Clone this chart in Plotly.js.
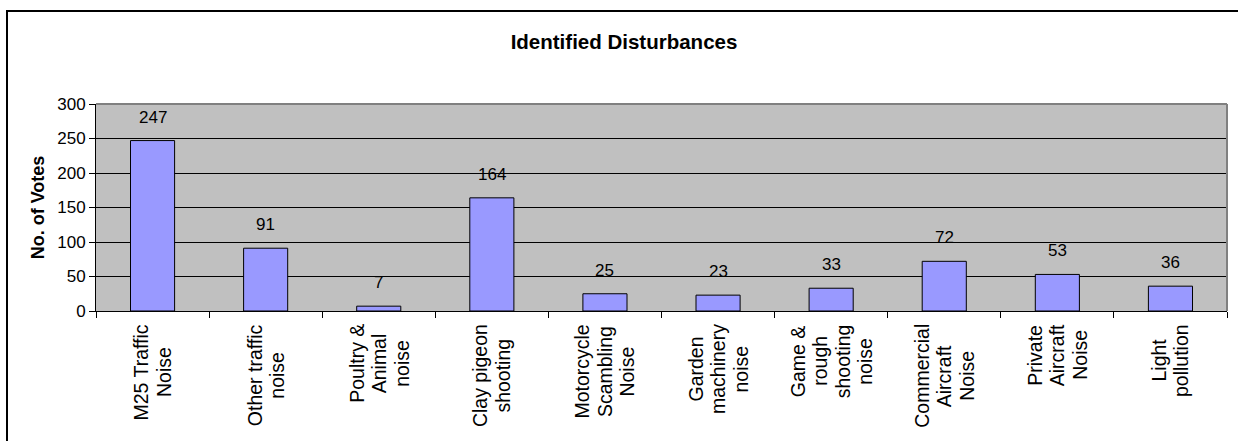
<!DOCTYPE html>
<html>
<head>
<meta charset="utf-8">
<script src="https://cdn.plot.ly/plotly-3.0.1.min.js"></script>
<style>
  html, body { margin: 0; padding: 0; background: #fff; overflow: hidden; }
  #chart { width: 1238px; height: 441px; position: absolute; left: 0; top: 0; }
  #frame { position: absolute; left: 6px; top: 10px; width: 1260px; height: 460px;
           border-left: 2px solid #000; border-top: 2px solid #000; pointer-events: none; }
</style>
</head>
<body>
<div id="chart"></div>
<div id="frame"></div>
<script>
const categories = [
  ["M25 Traffic", "Noise"],
  ["Other traffic", "noise"],
  ["Poultry &", "Animal", "noise"],
  ["Clay pigeon", "shooting"],
  ["Motorcycle", "Scambling", "Noise"],
  ["Garden", "machinery", "noise"],
  ["Game &", "rough", "shooting", "noise"],
  ["Commercial", "Aircraft", "Noise"],
  ["Private", "Aircraft", "Noise"],
  ["Light", "pollution"]
];
const votes = [247, 91, 7, 164, 25, 23, 33, 72, 53, 36];
const yTicks = [0, 50, 100, 150, 200, 250, 300];

const FONT = "Liberation Sans, Arial, sans-serif";
const CAT_SIZE = 19.5;
const LINE_GAP = 22.5;

const canvas = document.createElement("canvas");
const ctx = canvas.getContext("2d");
ctx.font = CAT_SIZE + "px 'Liberation Sans'";

const idx = categories.map((c, i) => i);

const trace = {
  type: "bar",
  x: idx,
  y: votes,
  marker: { color: "#9999FF", line: { color: "#000000", width: 1 } },
  hoverinfo: "skip"
};

const annotations = [];
votes.forEach((v, i) => {
  annotations.push({
    x: i, y: v, xref: "x", yref: "y",
    text: String(v), showarrow: false,
    yanchor: "bottom", yshift: 12,
    font: { family: FONT, size: 17, color: "#000" }
  });
});
categories.forEach((lines, i) => {
  const wMax = Math.max(...lines.map(s => ctx.measureText(s).width));
  const n = lines.length;
  lines.forEach((s, j) => {
    annotations.push({
      x: i, y: 0, xref: "x", yref: "paper",
      text: s, showarrow: false, textangle: -90,
      xanchor: "center", yanchor: "middle",
      xshift: (j - (n - 1) / 2) * LINE_GAP,
      yshift: -(13 + wMax / 2),
      font: { family: FONT, size: CAT_SIZE, color: "#000" }
    });
  });
});

const layout = {
  width: 1238, height: 441,
  margin: { l: 96, r: 11, t: 104, b: 130 },
  paper_bgcolor: "#ffffff",
  plot_bgcolor: "#C0C0C0",
  bargap: 0.61,
  showlegend: false,
  title: {
    text: "<b>Identified Disturbances</b>",
    font: { family: FONT, size: 20.5, color: "#000" },
    xref: "container", yref: "container",
    x: 624 / 1238, xanchor: "center",
    y: 1 - 42 / 441, yanchor: "middle"
  },
  xaxis: {
    type: "linear",
    range: [-0.5, categories.length - 0.5],
    tickmode: "array",
    tickvals: categories.map((c, i) => i - 0.5).concat([categories.length - 0.5]),
    showticklabels: false,
    ticks: "outside", ticklen: 6, tickcolor: "#000", tickwidth: 1,
    showline: true, linecolor: "#000", linewidth: 1,
    showgrid: false, zeroline: false, fixedrange: true
  },
  yaxis: {
    range: [0, 300],
    tickmode: "array", tickvals: yTicks, ticktext: yTicks.map(String),
    ticks: "outside", ticklen: 6, tickcolor: "#000", tickwidth: 1,
    tickfont: { family: FONT, size: 17, color: "#000" },
    showline: true, linecolor: "#000", linewidth: 1,
    showgrid: true, gridcolor: "#000", gridwidth: 1,
    zeroline: false, fixedrange: true,
    title: { text: "<b>No. of Votes</b>", font: { family: FONT, size: 18, color: "#000" }, standoff: 7 }
  },
  shapes: [
    { type: "line", xref: "paper", yref: "paper", x0: 0, x1: 1, y0: 1, y1: 1,
      line: { color: "#808080", width: 2 }, layer: "above" },
    { type: "line", xref: "paper", yref: "paper", x0: 1, x1: 1, y0: 0, y1: 1,
      line: { color: "#808080", width: 2 }, layer: "above" }
  ],
  annotations: annotations
};

Plotly.newPlot("chart", [trace], layout, { staticPlot: true, displayModeBar: false });
</script>
</body>
</html>
